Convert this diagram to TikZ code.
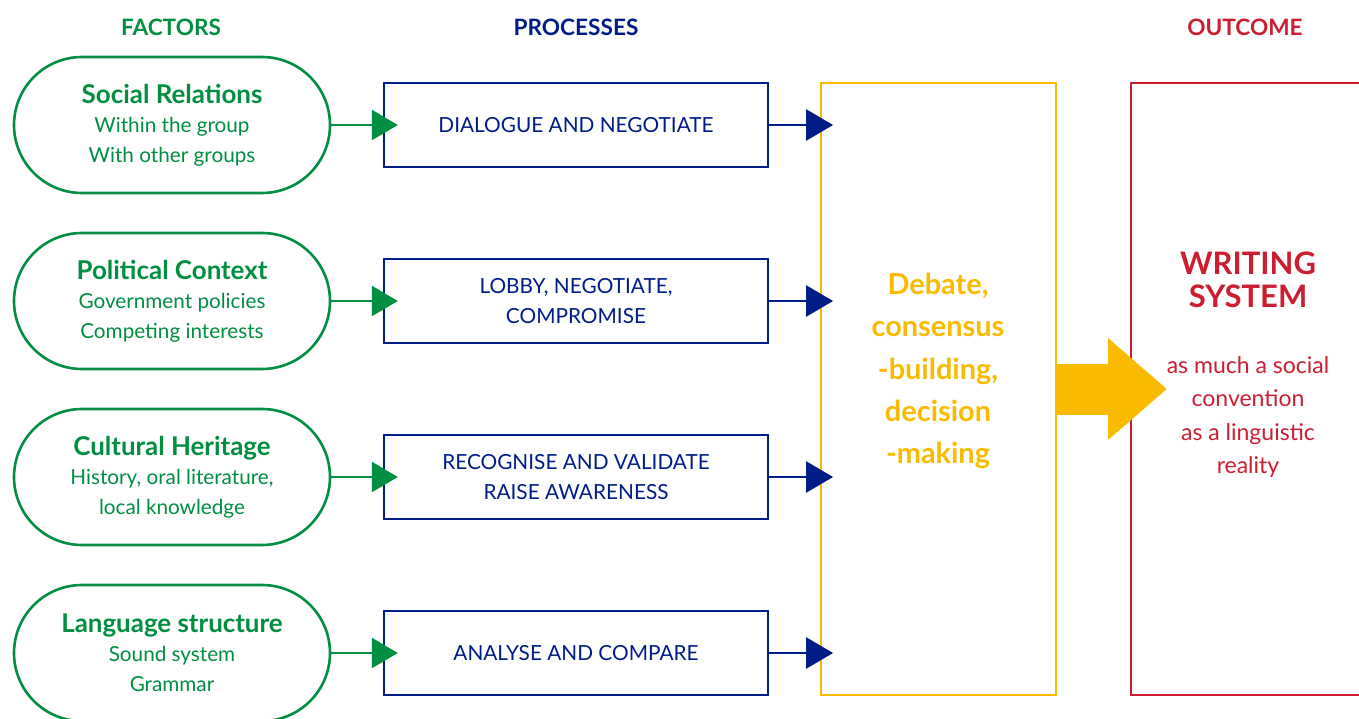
\documentclass[tikz,border=0pt]{standalone}
\usepackage{fontspec}
\setmainfont{Lato}
\usepackage{xcolor}
\usetikzlibrary{arrows.meta}
\definecolor{FacGreen}{RGB}{0,142,64}
\definecolor{ProNavy}{RGB}{0,28,136}
\definecolor{DebGold}{RGB}{250,186,0}
\definecolor{OutRed}{RGB}{204,30,48}

\begin{document}
\begin{tikzpicture}[x=1pt, y=-1pt,
          head/.style={font=\bfseries\fontsize{22.6}{26}\selectfont},
          factor/.style={draw=FacGreen, line width=2.6pt, rounded corners=68pt,
                         minimum width=316pt, minimum height=136pt, text=FacGreen,
                         align=center, font=\fontsize{20.7}{30}\selectfont},
          process/.style={draw=ProNavy, line width=2.4pt, minimum width=384pt,
                          minimum height=84pt, text=ProNavy, align=center,
                          font=\fontsize{20.8}{30}\selectfont},
          garr/.style={draw=FacGreen, line width=2.6pt,
                       -{Triangle[length=26pt,width=30pt]}, shorten >=-15pt},
          narr/.style={draw=ProNavy, line width=2.6pt,
                       -{Triangle[length=27pt,width=31pt]}, shorten >=-13.5pt}
        ]
        \useasboundingbox (0,0) rectangle (1359,718);
        \clip (0,0) rectangle (1359,718);

        \node[head, text=FacGreen] (hf) at (171, 27) {FACTORS};
        \node[head, text=ProNavy]  (hp) at (576, 27) {PROCESSES};
        \node[head, text=OutRed]   (ho) at (1245, 27) {OUTCOME};

        \node[factor] (f1) at (172, 125)
              {{\bfseries\fontsize{25.9}{30}\selectfont Social Relations}\\[-1pt]
               Within the group\\With other groups};
        \node[factor] (f2) at (172, 301)
              {{\bfseries\fontsize{25.9}{30}\selectfont Political Context}\\[-1pt]
               Government policies\\Competing interests};
        \node[factor] (f3) at (172, 477)
              {{\bfseries\fontsize{25.9}{30}\selectfont Cultural Heritage}\\[-1pt]
               History, oral literature,\\local knowledge};
        \node[factor] (f4) at (172, 653)
              {{\bfseries\fontsize{25.9}{30}\selectfont Language structure}\\[-1pt]
               Sound system\\Grammar};

        \node[process] (p1) at (576, 125) {DIALOGUE AND NEGOTIATE};
        \node[process] (p2) at (576, 301) {LOBBY, NEGOTIATE,\\COMPROMISE};
        \node[process] (p3) at (576, 477) {RECOGNISE AND VALIDATE\\RAISE AWARENESS};
        \node[process] (p4) at (576, 653) {ANALYSE AND COMPARE};

        \node[draw=DebGold, line width=2.8pt, minimum width=235pt,
              minimum height=612pt] (deb) at (938.5, 389) {};
        \node[text=DebGold, align=center,
              font=\bfseries\fontsize{28.9}{42.2}\selectfont] (debt) at (938, 371)
              {Debate,\\consensus\\-building,\\decision\\-making};

        \node[draw=OutRed, line width=2.8pt, minimum width=234pt,
              minimum height=612pt] (ws) at (1248, 389) {};
        \node[text=OutRed, align=center,
              font=\bfseries\fontsize{31}{33}\selectfont] (wst) at (1248, 280)
              {WRITING\\SYSTEM};
        \node[text=OutRed, align=center,
              font=\fontsize{23}{33.6}\selectfont] (wsd) at (1248, 417)
              {as much a social\\convention\\as a linguistic\\reality};
        \coordinate (tip) at (1167, 389);

        \draw[garr] (f1) -- (p1);
        \draw[garr] (f2) -- (p2);
        \draw[garr] (f3) -- (p3);
        \draw[garr] (f4) -- (p4);
        \draw[narr] (p1.east) -- (p1.east -| deb.west);
        \draw[narr] (p2.east) -- (p2.east -| deb.west);
        \draw[narr] (p3.east) -- (p3.east -| deb.west);
        \draw[narr] (p4.east) -- (p4.east -| deb.west);
        \draw[draw=DebGold, line width=51pt,
              -{Triangle[length=59pt,width=98pt]}] (deb.east) -- (tip);
      \end{tikzpicture}
\end{document}
